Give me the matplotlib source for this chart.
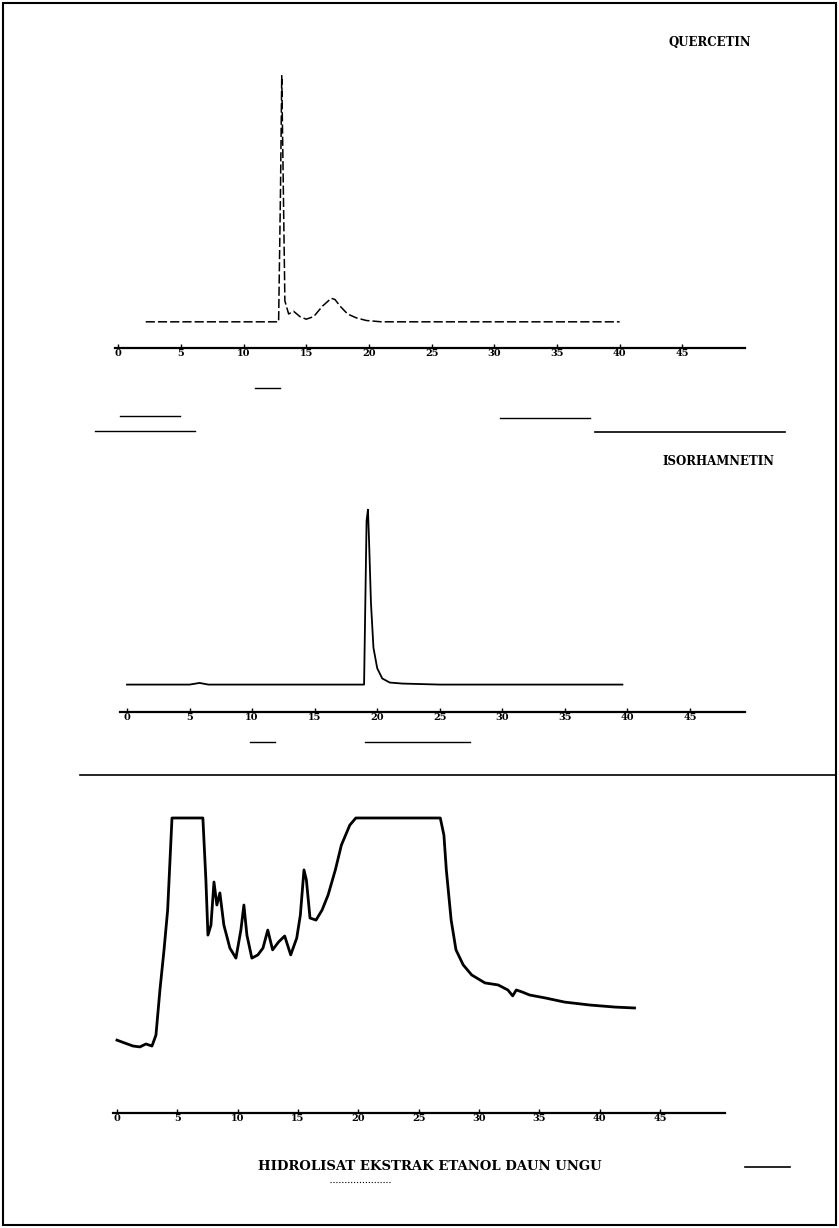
import matplotlib.pyplot as plt
from matplotlib.lines import Line2D

# ==============================
# DATA (retention time in min, detector signal in arbitrary units)
# ==============================
tick_values = [0, 5, 10, 15, 20, 25, 30, 35, 40, 45]

quer_time = [2.2, 6, 10, 12, 12.8, 12.95, 13.05, 13.15, 13.3, 13.6, 14.0, 14.5,
             15.0, 15.6, 16.3, 17.0, 17.3, 17.7, 18.3, 19.0, 19.8, 21, 25, 30, 35, 40]
quer_signal = [0, 0, 0, 0, 0, 50, 94, 60, 8, 3, 4, 2,
               1, 2, 6, 9, 8.5, 6, 3, 1.5, 0.5, 0, 0, 0, 0, 0]

isor_time = [0, 5, 5.8, 6.5, 12, 15, 18, 18.95, 19.05, 19.15, 19.26, 19.35,
             19.5, 19.7, 20.0, 20.4, 21, 22, 25, 30, 35, 39.6]
isor_signal = [0, 0, 0.8, 0, 0, 0, 0, 0, 40, 80, 85.5, 70,
               40, 18, 8, 3, 1, 0.5, 0, 0, 0, 0]

hidro_time = [0, 0.66, 1.33, 1.9, 2.4, 2.9, 3.23, 3.56, 3.9, 4.2, 4.56, 7.12,
              7.37, 7.54, 7.79, 8.04, 8.28, 8.53, 8.86, 9.36, 9.86, 10.27, 10.52,
              10.77, 11.18, 11.68, 12.1, 12.5, 12.9, 13.4, 13.9, 14.4, 14.9, 15.2,
              15.5, 15.7, 16.0, 16.5, 17.0, 17.5, 18.1, 18.6, 19.3, 19.8, 26.8,
              27.1, 27.3, 27.7, 28.1, 28.7, 29.4, 30.5, 31.6, 32.4, 32.8, 33.1,
              33.6, 34.2, 35.5, 37.1, 39.2, 41.3, 42.9]
hidro_signal = [24.7, 23.7, 22.7, 22.4, 23.4, 22.7, 26.4, 41.7, 55.3, 68.8, 100, 100,
                79, 60.3, 63.7, 78.3, 70.5, 74.6, 63.7, 55.9, 52.5, 62, 70.5,
                60.3, 52.5, 53.6, 55.9, 62, 55.3, 58, 60, 53.6, 59.3, 67.1,
                82.4, 79, 66.1, 65.4, 68.8, 73.9, 82.4, 90.8, 97.6, 100, 100,
                94.2, 82.4, 65.4, 55.3, 50.2, 46.8, 44.1, 43.4, 41.7, 39.7, 41.7,
                41, 40, 39, 37.6, 36.6, 35.9, 35.6]

# ==============================
# FIGURE
# ==============================
W, H = 839, 1228
fig = plt.figure(figsize=(W / 100, H / 100), dpi=100)
fig.patch.set_facecolor("white")


def px_axes(x0, y0, x1, y1):
    # pixel box (top-left origin) -> figure axes
    return fig.add_axes([x0 / W, 1 - y1 / H, (x1 - x0) / W, (y1 - y0) / H])


def px_line(x0, x1, y, lw=1.2, ls="-"):
    fig.add_artist(Line2D([x0 / W, x1 / W], [1 - y / H, 1 - y / H],
                          transform=fig.transFigure, color="black", lw=lw, ls=ls))


def style_axis(ax, xlim, ylim):
    ax.set_xlim(*xlim)
    ax.set_ylim(*ylim)
    for s in ["top", "right", "left"]:
        ax.spines[s].set_visible(False)
    ax.spines["bottom"].set_linewidth(1.6)
    ax.set_yticks([])
    ax.set_xticks(tick_values)
    ax.set_xticklabels([str(v) for v in tick_values], fontsize=7,
                       family="DejaVu Serif", fontweight="bold")
    ax.tick_params(axis="x", length=3, width=1, pad=1, direction="in")
    ax.patch.set_alpha(0)


# ---- QUERCETIN ----
ax1 = px_axes(115, 60, 745, 348)
ax1.plot(quer_time, quer_signal, color="black", lw=1.1, ls=(0, (6, 2)))
style_axis(ax1, (-0.25, 50), (-10, 100))
fig.text(710 / W, 1 - 42 / H, "QUERCETIN", ha="center", va="center",
         fontsize=8.5, fontweight="bold", family="DejaVu Serif")

# ---- ISORHAMNETIN ----
ax2 = px_axes(120, 480, 745, 712)
ax2.plot(isor_time, isor_signal, color="black", lw=1.3)
style_axis(ax2, (-0.56, 49.4), (-13.4, 100))
fig.text(718 / W, 1 - 462 / H, "ISORHAMNETIN", ha="center", va="center",
         fontsize=8.5, fontweight="bold", family="DejaVu Serif")

# ---- HIDROLISAT ----
ax3 = px_axes(113, 800, 725, 1113)
ax3.plot(hidro_time, hidro_signal, color="black", lw=2.0)
style_axis(ax3, (-0.33, 50.4), (0, 106.1))
fig.text(430 / W, 1 - 1167 / H, "HIDROLISAT EKSTRAK ETANOL DAUN UNGU",
         ha="center", va="center", fontsize=9.5, fontweight="bold",
         family="DejaVu Serif")

# ---- scan artefacts / separator lines ----
px_line(255, 280, 388, lw=1.0)
px_line(120, 180, 416, lw=1.0)
px_line(95, 195, 431, lw=1.0)
px_line(500, 590, 418, lw=1.0)
px_line(595, 785, 432, lw=1.2)
px_line(250, 275, 742, lw=1.0)
px_line(365, 470, 742, lw=1.0)
px_line(80, 835, 775, lw=1.2)
px_line(745, 790, 1167, lw=1.2)
px_line(330, 390, 1182, lw=0.8, ls=":")

# frame
fig.add_artist(plt.Rectangle((3 / W, 3 / H), 1 - 6 / W, 1 - 6 / H,
                             transform=fig.transFigure, fill=False,
                             color="black", lw=1.5))

fig.savefig("out.png", dpi=100)
